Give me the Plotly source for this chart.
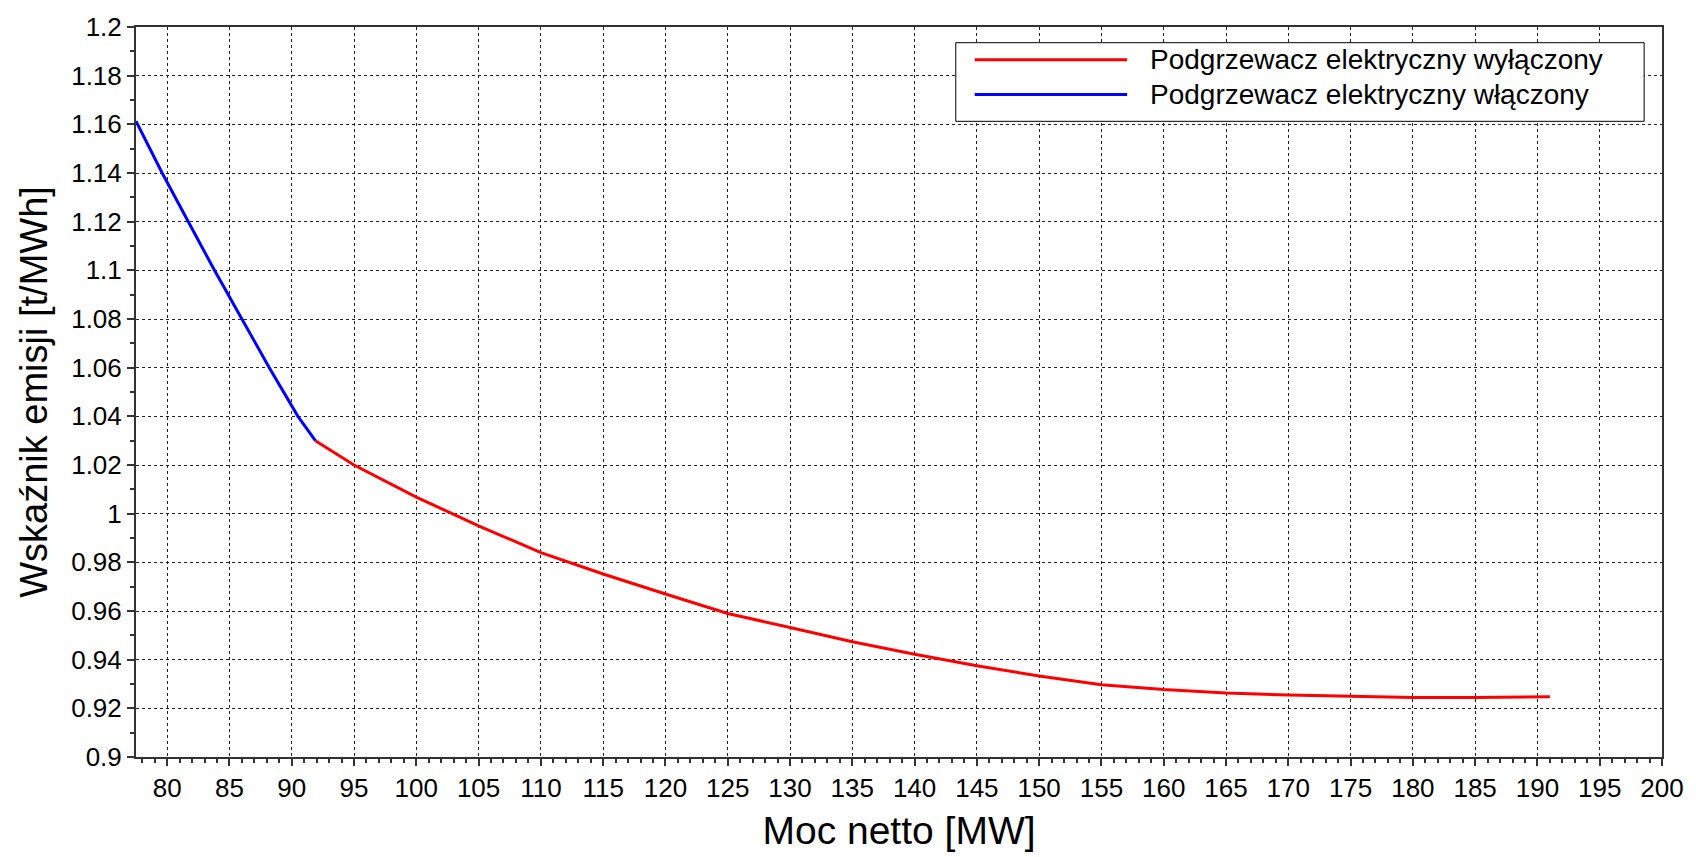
import plotly.graph_objects as go

# Emission factor vs net power output
moc_wlaczony = [77.5, 79.6, 81.7, 83.8, 86.0, 88.2, 90.5, 91.9]
emisja_wlaczony = [1.1613, 1.14, 1.12, 1.10, 1.08, 1.06, 1.04, 1.030]

moc_wylaczony = [91.9, 95, 100, 105, 110, 115, 120, 125, 130, 135, 140, 145,
                 150, 155, 160, 165, 170, 174, 175, 180, 185, 187, 191]
emisja_wylaczony = [1.030, 1.020, 1.0068, 0.995, 0.984, 0.9752, 0.967, 0.959,
                    0.9532, 0.9474, 0.9422, 0.9375, 0.9333, 0.9297, 0.9277,
                    0.9263, 0.9255, 0.9252, 0.9249, 0.9245, 0.9245, 0.9247,
                    0.9248]

x_ticks = list(range(80, 201, 5))
y_tick_vals = [0.9, 0.92, 0.94, 0.96, 0.98, 1.0, 1.02, 1.04, 1.06, 1.08,
               1.1, 1.12, 1.14, 1.16, 1.18, 1.2]
y_tick_text = ["0.9", "0.92", "0.94", "0.96", "0.98", "1", "1.02", "1.04",
               "1.06", "1.08", "1.1", "1.12", "1.14", "1.16", "1.18", "1.2"]

legend_labels = ["Podgrzewacz elektryczny wyłączony",
                 "Podgrzewacz elektryczny włączony"]
line_colors = ["#ff0000", "#0000ff"]

FONT = "Liberation Sans, Arial, sans-serif"

fig = go.Figure()
fig.add_trace(go.Scatter(x=moc_wylaczony, y=emisja_wylaczony, mode="lines",
                         line=dict(color=line_colors[0], width=3),
                         name=legend_labels[0], showlegend=False))
fig.add_trace(go.Scatter(x=moc_wlaczony, y=emisja_wlaczony, mode="lines",
                         line=dict(color=line_colors[1], width=3),
                         name=legend_labels[1], showlegend=False))

axis_common = dict(
    showline=True, linecolor="#333333", linewidth=2, mirror=True,
    showgrid=True, gridcolor="#222222", gridwidth=1, griddash="dot",
    ticks="outside", ticklen=7, tickwidth=1.5, tickcolor="#333333",
    tickfont=dict(family=FONT, size=26, color="black"),
    zeroline=False,
)

fig.update_xaxes(
    range=[77.5, 200], tickvals=x_ticks,
    minor=dict(dtick=1, tick0=0, ticks="outside", ticklen=4,
               tickcolor="#333333", showgrid=False),
    title=dict(text="Moc netto [MW]", font=dict(family=FONT, size=39, color="black"),
               standoff=14),
    **axis_common,
)
fig.update_yaxes(
    range=[0.9, 1.2], tickvals=y_tick_vals, ticktext=y_tick_text,
    minor=dict(dtick=0.01, tick0=0, ticks="outside", ticklen=4,
               tickcolor="#333333", showgrid=False),
    title=dict(text="Wskaźnik emisji [t/MWh]", font=dict(family=FONT, size=38, color="black"),
               standoff=12),
    **axis_common,
)

# Legend box drawn in paper coordinates
shapes = [dict(type="rect", xref="paper", yref="paper",
               x0=0.5372, x1=0.9883, y0=0.8708, y1=0.9785,
               line=dict(color="black", width=1), fillcolor="white", layer="above")]
annotations = []
for i, (lab, col) in enumerate(zip(legend_labels, line_colors)):
    yy = [0.9552, 0.9075][i]
    shapes.append(dict(type="line", xref="paper", yref="paper",
                       x0=0.5496, x1=0.6495, y0=yy, y1=yy,
                       line=dict(color=col, width=3), layer="above"))
    annotations.append(dict(xref="paper", yref="paper", x=0.6632, y=yy,
                            xanchor="left", yanchor="middle", showarrow=False,
                            text=lab, font=dict(family=FONT, size=28, color="black")))

fig.update_layout(
    width=1696, height=857,
    margin=dict(l=136, r=28, t=19, b=95),
    plot_bgcolor="white", paper_bgcolor="white",
    shapes=shapes, annotations=annotations,
    showlegend=False,
)

fig.write_html("out.html")
